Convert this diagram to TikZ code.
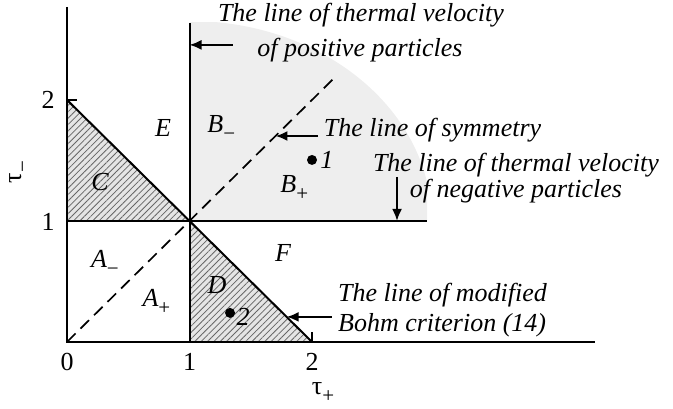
\documentclass[tikz,border=0pt]{standalone}
\usepackage{fontspec}
\setmainfont{Liberation Serif}
\usetikzlibrary{arrows.meta,patterns.meta}
\newcommand\lowsub[1]{\raisebox{-0.32em}{\fontsize{21}{21}\selectfont\upshape #1}}
\begin{document}
\begin{tikzpicture}[x=122.5pt,y=121pt,
  ln/.style={line width=2pt},
  lbl/.style={font=\fontsize{26}{30}\selectfont\itshape, inner sep=0pt},
  num/.style={font=\fontsize{26}{30}\selectfont, inner sep=0pt},
  note/.style={font=\fontsize{26}{30}\selectfont\itshape, inner sep=0pt, anchor=base},
  arr/.style={line width=2pt, -{Latex[length=12pt,width=10pt]}},
  hatch/.style={fill=gray!20, postaction={pattern={Lines[angle=45,distance=4.5pt,line width=0.8pt]}, pattern color=black!60}},
  dot/.style={circle, fill=black, inner sep=0pt, minimum size=10pt}]
\useasboundingbox (-0.547,-0.554) rectangle (4.947,2.826);
% grey region
\begin{scope}
  \clip (1,1) rectangle (2.939,2.636);
  \fill[gray!13] (1,1) ellipse [x radius=1.976, y radius=1.653];
\end{scope}
% hatched triangles
\path[hatch] (0,1) -- (0,2) -- (1,1) -- cycle;
\path[hatch] (1,0) -- (1,1) -- (2,0) -- cycle;
% coordinates
\coordinate (O) at (0,0);
\coordinate (ytop) at (0,2.769);
\coordinate (xend) at (4.31,0);
\coordinate (v0) at (1,0);
\coordinate (vtop) at (1,2.636);
\coordinate (h0) at (0,1);
\coordinate (hend) at (2.939,1);
\coordinate (b0) at (0,2);
\coordinate (b1) at (2,0);
\coordinate (send) at (2.17,2.17);
% lines
\draw[ln] (ytop) -- (O) -- (xend);
\draw[ln] (v0) -- (vtop);
\draw[ln] (h0) -- (hend);
\draw[ln] (b0) -- (b1);
\draw[line width=1.7pt, dash pattern=on 12pt off 7pt] (O) -- (send);
\draw[line width=1.3pt] (b0) -- ++(10pt,0);
\draw[line width=1.3pt] (b1) -- ++(0,10pt);
% axis labels
\node[num] (x0) at (0,-0.165) {0};
\node[num] (x1) at (1,-0.165) {1};
\node[num] (x2) at (2,-0.165) {2};
\node[num] (tp) at (2.09,-0.42) {τ\lowsub{+}};
\node[num] (y2) at (-0.155,2.0) {2};
\node[num] (y1) at (-0.155,0.992) {1};
\node[num, rotate=90] (tm) at (-0.39,1.405) {τ\lowsub{−}};
% region labels
\node[lbl] (E) at (0.784,1.769) {E};
\node[lbl] (Bm) at (1.26,1.769) {B\lowsub{−}};
\node[lbl] (C) at (0.269,1.322) {C};
\node[lbl] (Bp) at (1.855,1.273) {B\lowsub{+}};
\node[lbl] (Am) at (0.31,0.653) {A\lowsub{−}};
\node[lbl] (Ap) at (0.73,0.331) {A\lowsub{+}};
\node[lbl] (D) at (1.224,0.471) {D};
\node[lbl] (F) at (1.763,0.736) {F};
\node[dot] (d1) at (2.0,1.504) {};
\node[lbl] (n1) at (2.122,1.504) {1};
\node[dot] (d2) at (1.331,0.240) {};
\node[lbl] (n2) at (1.437,0.207) {2};
% notes
\node[note] (pa) at (2.40,2.645) {The line of thermal velocity};
\node[note] (pb) at (2.392,2.355) {of positive particles};
\node[note] (sy) at (2.984,1.694) {The line of symmetry};
\node[note] (na) at (3.665,1.405) {The line of thermal velocity};
\node[note] (nb) at (3.665,1.19) {of negative particles};
\node[note, anchor=base west] (ba) at (2.212,0.331) {The line of modified};
\node[note, anchor=base west] (bb) at (2.212,0.083) {Bohm criterion (14)};
% arrows
\coordinate (pas) at (1.355,2.455);
\coordinate (pat) at (1.0,2.455);
\coordinate (sys) at (2.049,1.702);
\coordinate (syt) at (1.702,1.702);
\coordinate (ngs) at (2.694,1.364);
\coordinate (ngt) at (2.694,1.0);
\coordinate (bos) at (2.163,0.207);
\coordinate (bot) at (1.793,0.207);
\draw[arr] (pas) -- (pat);
\draw[arr] (sys) -- (syt);
\draw[arr] (ngs) -- (ngt);
\draw[arr] (bos) -- (bot);
\end{tikzpicture}
\end{document}
